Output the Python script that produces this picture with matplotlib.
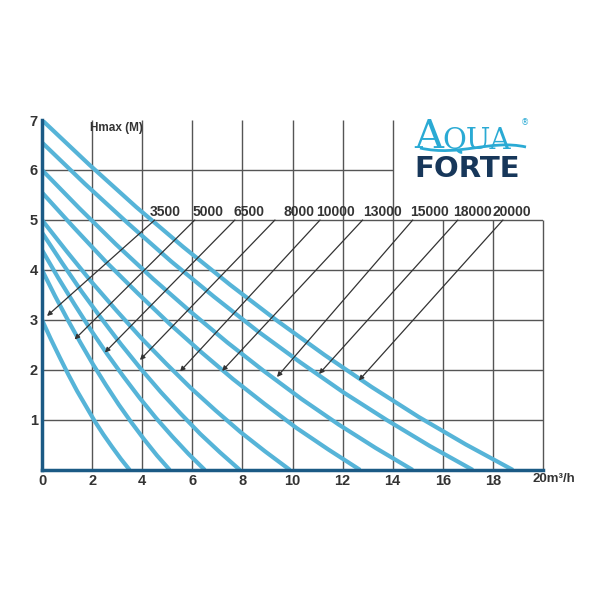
import matplotlib.pyplot as plt
from matplotlib.path import Path
from matplotlib.patches import PathPatch

# Pump models (l/h) and their Q-H curves
models = ["3500", "5000", "6500", "8000", "10000", "13000", "15000", "18000", "20000"]

curve_flow = [
    [0, 0.35, 0.70, 1.05, 1.40, 1.75, 2.10, 2.45, 2.80, 3.15, 3.5],
    [0, 0.51, 1.02, 1.53, 2.04, 2.55, 3.06, 3.57, 4.08, 4.59, 5.1],
    [0, 0.65, 1.30, 1.95, 2.60, 3.25, 3.90, 4.55, 5.20, 5.85, 6.5],
    [0, 0.79, 1.58, 2.37, 3.16, 3.95, 4.74, 5.53, 6.32, 7.11, 7.9],
    [0, 0.99, 1.98, 2.97, 3.96, 4.95, 5.94, 6.93, 7.92, 8.91, 9.9],
    [0, 1.27, 2.54, 3.81, 5.08, 6.35, 7.62, 8.89, 10.16, 11.43, 12.7],
    [0, 1.48, 2.96, 4.44, 5.92, 7.40, 8.88, 10.36, 11.84, 13.32, 14.8],
    [0, 1.72, 3.44, 5.16, 6.88, 8.60, 10.32, 12.04, 13.76, 15.48, 17.2],
    [0, 1.88, 3.76, 5.64, 7.52, 9.40, 11.28, 13.16, 15.04, 16.92, 18.8],
]
curve_head = [
    [3.0, 2.62, 2.26, 1.91, 1.58, 1.28, 0.98, 0.71, 0.46, 0.22, 0],
    [4.0, 3.49, 3.01, 2.55, 2.11, 1.70, 1.31, 0.95, 0.61, 0.29, 0],
    [4.4, 3.84, 3.31, 2.80, 2.32, 1.87, 1.44, 1.04, 0.67, 0.32, 0],
    [4.75, 4.15, 3.57, 3.03, 2.51, 2.02, 1.56, 1.13, 0.72, 0.35, 0],
    [5.0, 4.37, 3.76, 3.19, 2.64, 2.13, 1.64, 1.19, 0.76, 0.37, 0],
    [5.55, 4.85, 4.17, 3.54, 2.93, 2.36, 1.82, 1.32, 0.84, 0.41, 0],
    [6.0, 5.24, 4.51, 3.82, 3.17, 2.55, 1.97, 1.42, 0.91, 0.44, 0],
    [6.55, 5.72, 4.93, 4.17, 3.46, 2.78, 2.15, 1.55, 1.00, 0.48, 0],
    [7.0, 6.11, 5.26, 4.46, 3.70, 2.98, 2.30, 1.66, 1.06, 0.51, 0],
]

# label positions and arrow ends
label_x = [4.31, 6.03, 7.66, 9.66, 10.94, 12.81, 14.69, 16.41, 18.0]
label_y = 5.08
arrow_start_x = [4.5, 6.1, 7.7, 9.3, 11.1, 12.8, 14.8, 16.6, 18.4]
arrow_start_y = 5.0
arrow_tip_x = [0.2, 1.3, 2.51, 3.91, 5.51, 7.19, 9.38, 11.06, 12.65]
arrow_tip_y = [3.08, 2.61, 2.35, 2.2, 1.97, 1.98, 1.86, 1.92, 1.79]

x_ticks = [0, 2, 4, 6, 8, 10, 12, 14, 16, 18]
y_ticks = [1, 2, 3, 4, 5, 6, 7]

curve_color = "#56b4d8"
axis_color = "#1b5a85"
grid_color = "#555555"
text_color = "#333333"
font = ["Liberation Sans", "DejaVu Sans"]

fig = plt.figure(figsize=(6, 6), dpi=100)
ax = fig.add_axes([0.07, 0.2167, 0.835, 0.5833])
ax.set_xlim(0, 20)
ax.set_ylim(0, 7)

# grid, cut away in the upper right where the logo sits
for x in range(2, 21, 2):
    top = 7 if x <= 14 else 5
    ax.vlines(x, 0, top, color=grid_color, lw=1, zorder=1, clip_on=False)
for y in range(1, 6):
    ax.hlines(y, 0, 20, color=grid_color, lw=1, zorder=1)
ax.hlines(6, 0, 14, color=grid_color, lw=1, zorder=1)

for fl, hd in zip(curve_flow, curve_head):
    ax.plot(fl, hd, color=curve_color, lw=3, solid_capstyle="butt", zorder=2)

for i, m in enumerate(models):
    ax.text(label_x[i], label_y, m, fontsize=10, fontweight="bold",
            color=text_color, family=font, va="baseline", ha="left")
    ax.annotate("", xy=(arrow_tip_x[i], arrow_tip_y[i]),
                xytext=(arrow_start_x[i], arrow_start_y),
                arrowprops=dict(arrowstyle="-|>", lw=0.9, color="#333333",
                                mutation_scale=7, shrinkA=0, shrinkB=0),
                zorder=3)

ax.text(1.92, 6.84, "Hmax (M)", fontsize=8.5, fontweight="bold",
        color=text_color, family=font, va="center", ha="left")

for s in ["top", "right"]:
    ax.spines[s].set_visible(False)
for s in ["left", "bottom"]:
    ax.spines[s].set_color(axis_color)
    ax.spines[s].set_linewidth(2.5)
    ax.spines[s].set_zorder(4)

ax.set_xticks(x_ticks)
ax.set_xticklabels([str(t) for t in x_ticks])
ax.set_yticks(y_ticks)
ax.set_yticklabels([str(t) for t in y_ticks])
ax.tick_params(length=0, labelsize=10.5, labelcolor=text_color, pad=3)
for lab in ax.get_xticklabels() + ax.get_yticklabels():
    lab.set_fontweight("bold")
    lab.set_family(font)
ax.text(19.6, -0.06, "20m³/h", fontsize=9.5, fontweight="bold",
        color=text_color, family=font, va="top", ha="left")

# logo
fig.text(414 / 600, 1 - 148 / 600, "A", fontsize=29, color="#2aaad4",
         family="DejaVu Serif", va="baseline", ha="left")
fig.text(442 / 600, 1 - 148 / 600, "QUA", fontsize=21, color="#2aaad4",
         family="DejaVu Serif", va="baseline", ha="left")
fig.text(521 / 600, 1 - 123 / 600, "®", fontsize=6, color="#2aaad4",
         va="center", ha="left")
fig.text(414 / 600, 1 - 177 / 600, "FORTE", fontsize=21, fontweight="heavy",
         color="#17375a", family="DejaVu Sans", va="baseline", ha="left")
wave = Path([(420 / 600, 1 - 148 / 600), (460 / 600, 1 - 157 / 600),
             (490 / 600, 1 - 139 / 600), (526 / 600, 1 - 147 / 600)],
            [Path.MOVETO, Path.CURVE4, Path.CURVE4, Path.CURVE4])
fig.add_artist(PathPatch(wave, transform=fig.transFigure, fill=False,
                         edgecolor="#2aaad4", lw=2))

fig.savefig("out.png", dpi=100)
